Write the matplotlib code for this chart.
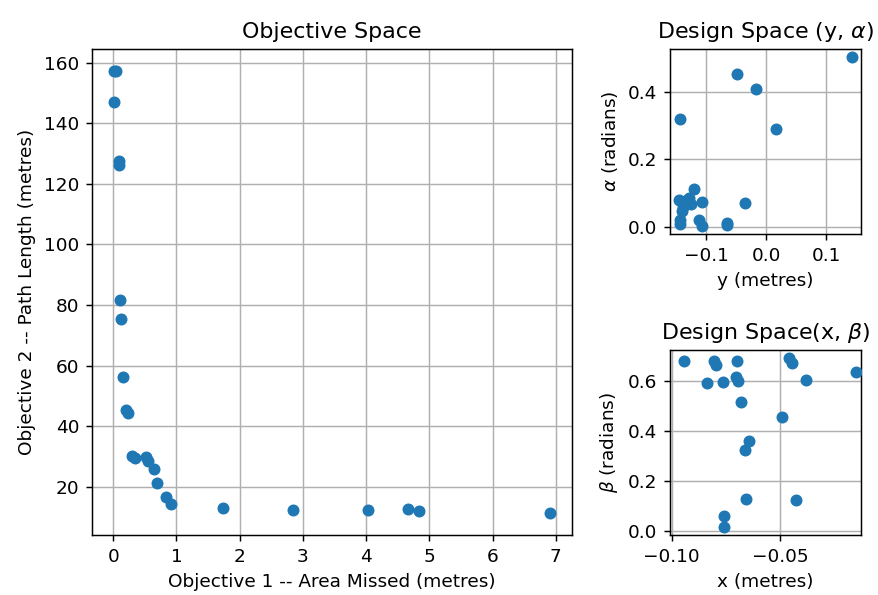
import matplotlib
matplotlib.use("Agg")
import matplotlib.pyplot as plt
import numpy as np

# objective space (area missed, path length)
area_missed = [0.01, 0.04, 0.02, 0.09, 0.09, 0.10, 0.12, 0.155, 0.205, 0.23,
               0.30, 0.34, 0.525, 0.55, 0.645, 0.70, 0.83, 0.91, 1.73,
               2.85, 4.03, 4.66, 4.83, 6.91]
path_length = [157.2, 157.2, 146.9, 127.5, 126.3, 81.7, 75.3, 56.1, 45.3, 44.5,
               30.3, 29.6, 29.8, 28.6, 25.9, 21.2, 16.8, 14.2, 13.1,
               12.5, 12.5, 12.7, 12.0, 11.4]

# design space (y, alpha)
y_pos = [0.143, -0.0486, -0.0165, -0.143, 0.0154, -0.120, -0.146, -0.132,
         -0.107, -0.138, -0.128, -0.036, -0.144, -0.144, -0.113, -0.107,
         -0.066, -0.066, -0.140, -0.125]
alpha = [0.502, 0.453, 0.407, 0.318, 0.289, 0.112, 0.079, 0.079,
         0.072, 0.059, 0.085, 0.069, 0.020, 0.007, 0.020, 0.003,
         0.010, 0.005, 0.045, 0.068]

# design space (x, beta)
x_pos = [-0.0941, -0.0803, -0.0795, -0.0700, -0.0835, -0.0763, -0.0705,
         -0.0695, -0.0682, -0.0491, -0.0644, -0.0659, -0.0656, -0.0425,
         -0.0757, -0.0760, -0.0456, -0.0445, -0.0380, -0.0150]
beta = [0.681, 0.681, 0.666, 0.681, 0.593, 0.596, 0.619,
        0.600, 0.518, 0.457, 0.360, 0.323, 0.128, 0.121,
        0.059, 0.016, 0.692, 0.672, 0.606, 0.639]

W, H = 878, 595
dpi = 133
fig = plt.figure(figsize=(W / dpi, H / dpi), dpi=dpi)

ax1 = fig.add_axes([92 / W, 60 / H, 480 / W, 486 / H])
ax1.scatter(area_missed, path_length, s=30, zorder=3)
ax1.grid(True)
ax1.set_title("Objective Space")
ax1.set_xlabel("Objective 1 -- Area Missed (metres)")
ax1.set_ylabel("Objective 2 -- Path Length (metres)")

ax2 = fig.add_axes([670 / W, (H - 234) / H, 191 / W, 185 / H])
ax2.scatter(y_pos, alpha, s=30, zorder=3)
ax2.grid(True)
ax2.set_title(r"Design Space (y, $\alpha$)")
ax2.set_xlabel("y (metres)")
ax2.set_ylabel(r"$\alpha$ (radians)")

ax3 = fig.add_axes([670 / W, 60 / H, 191 / W, 185 / H])
ax3.scatter(x_pos, beta, s=30, zorder=3)
ax3.grid(True)
ax3.set_xlim(-0.1008, -0.0125)
ax3.set_title(r"Design Space(x, $\beta$)")
ax3.set_xlabel("x (metres)")
ax3.set_ylabel(r"$\beta$ (radians)")

fig.savefig("out.png", dpi=dpi)
